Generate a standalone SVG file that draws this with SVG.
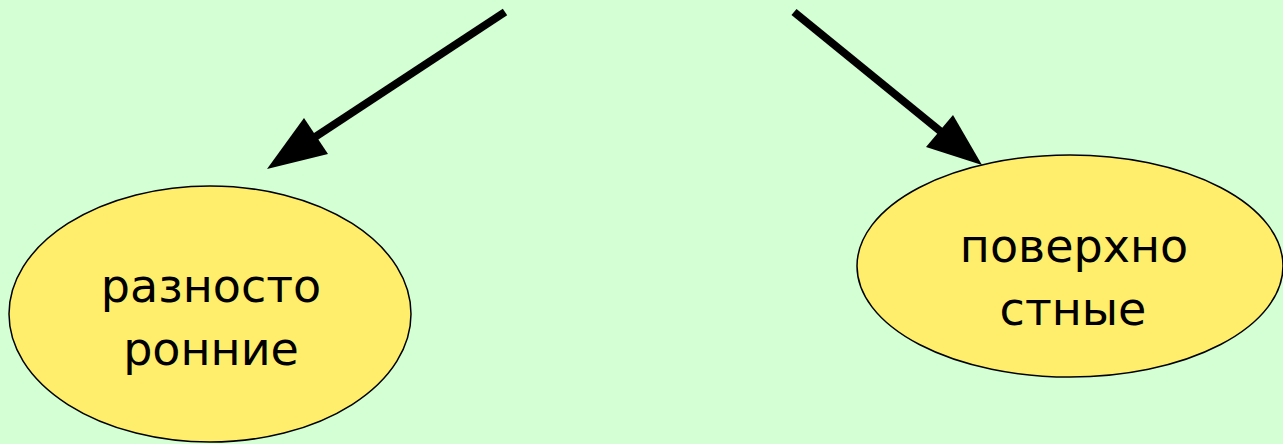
<svg xmlns="http://www.w3.org/2000/svg" width="1283" height="444" viewBox="0 0 1283 444">
<style>
.node ellipse{fill:#ffee6b;stroke:#000;stroke-width:1.5}
.node text{font-family:"DejaVu Sans","Noto Sans",sans-serif;font-size:46px;fill:#000;text-anchor:middle}
.conn line{stroke:#000;stroke-width:8}
.conn polygon{fill:#000}
</style>
<rect width="1283" height="444" fill="#d4fed4"/>
<g id="connectors" class="conn">
<line x1="505" y1="12" x2="312" y2="139"/>
<polygon points="267,169 304,118 328,154"/>
<line x1="794" y1="12" x2="945" y2="135"/>
<polygon points="982,165 953,115 926,147"/>
</g>
<g id="node-left" class="node">
<ellipse cx="210" cy="314" rx="201" ry="128"/>
<text x="211" y="302">разносто</text>
<text x="211" y="365">ронние</text>
</g>
<g id="node-right" class="node">
<ellipse cx="1070" cy="266" rx="213" ry="111"/>
<text x="1074" y="262">поверхно</text>
<text x="1073" y="325">стные</text>
</g>
</svg>
